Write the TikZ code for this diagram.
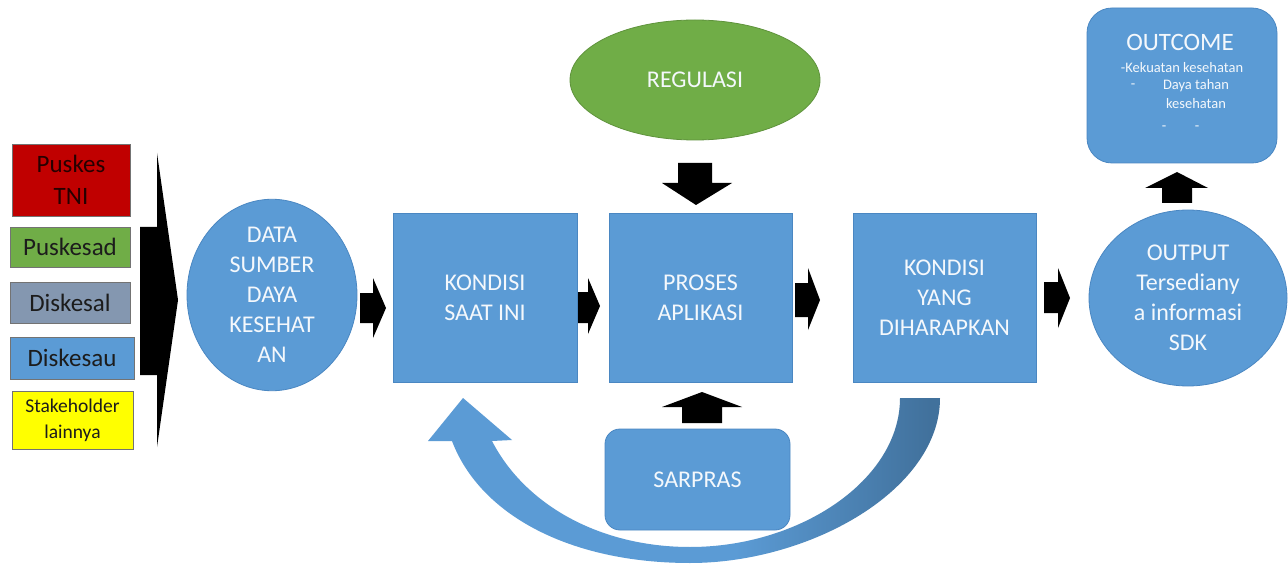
\documentclass[tikz,border=0pt]{standalone}
\usepackage{fontspec}
\setmainfont{Carlito}
\usetikzlibrary{shapes.geometric}
\definecolor{cA}{HTML}{5B9BD5}
\definecolor{cD}{HTML}{41719C}
\definecolor{cEdge}{HTML}{4A87C2}
\definecolor{cG}{HTML}{70AD47}
\definecolor{cR}{HTML}{C00000}
\definecolor{cS}{HTML}{8497B0}
\definecolor{cY}{HTML}{FFFF00}
\definecolor{cTxt}{HTML}{1C1C1C}
\definecolor{cW}{HTML}{F4F8FC}
\pgfdeclarehorizontalshading{curvshade}{100bp}{color(0bp)=(cA); color(55bp)=(cA); color(74bp)=(cD); color(100bp)=(cD)}
\tikzset{
  srcbox/.style={rectangle, draw=black!55, line width=0.8pt, text=cTxt, align=center, inner sep=0pt, font=\fontsize{25}{32}\selectfont},
  bluebox/.style={rectangle, fill=cA, draw=cEdge, line width=0.8pt, text=cW, align=center, inner sep=0pt, font=\fontsize{24}{30}\selectfont},
  blueell/.style={ellipse, fill=cA, draw=cEdge, line width=0.8pt, text=cW, align=center, inner sep=0pt, font=\fontsize{24}{30}\selectfont},
  blockarrow/.style={fill=black, draw=none},
  wtext/.style={text=cW, align=center, inner sep=0pt}
}
\begin{document}
\begin{tikzpicture}[x=1pt,y=-1pt]
\useasboundingbox (0,0) rectangle (1288,564);
\fill[white] (0,0) rectangle (1288,564);

% source boxes
\node[srcbox, fill=cR, minimum width=118, minimum height=72, text=black!85!red] (tni) at (71,180) {Puskes\\TNI};
\node[srcbox, fill=cG, minimum width=120, minimum height=40] (ad) at (70,247) {Puskesad};
\node[srcbox, fill=cS, minimum width=120, minimum height=41] (al) at (70,302.5) {Diskesal};
\node[srcbox, fill=cA, minimum width=124, minimum height=42] (au) at (72,358) {Diskesau};
\node[srcbox, fill=cY, minimum width=121, minimum height=58, font=\fontsize{19.5}{26}\selectfont] (sh) at (72.5,420) {Stakeholder\\lainnya};

% big chevron
\fill[black] (140,227) -- (157,227) -- (157,153) -- (178,300) -- (157,447) -- (157,375) -- (140,375) -- cycle;

% main shapes
\node[blueell, minimum width=170, minimum height=160] (data) at (272,295) {DATA\\SUMBER\\DAYA\\KESEHAT\\AN};
\node[bluebox, minimum width=184, minimum height=169] (k1) at (485,297.5) {KONDISI\\SAAT INI};
\node[bluebox, minimum width=183, minimum height=169] (pa) at (700.5,297.5) {PROSES\\APLIKASI};
\node[bluebox, minimum width=183, minimum height=169] (k2) at (944.5,297.5) {KONDISI\\YANG\\DIHARAPKAN};
\node[blueell, fill=cG, draw=cG!85!black, minimum width=250, minimum height=120] (reg) at (695,80) {REGULASI};
\node[bluebox, rounded corners=15, minimum width=185, minimum height=101] (sar) at (697.5,479.5) {SARPRAS};
\node[blueell, minimum width=198, minimum height=176] (out) at (1188,298) {OUTPUT\\Tersediany\\a informasi\\SDK};
\node[bluebox, rounded corners=25, minimum width=190, minimum height=155] (oc) at (1182,85.5) {};
\node[wtext, font=\fontsize{25}{30}\selectfont] (octitle) at (1180,42) {OUTCOME};
\node[wtext, font=\fontsize{14.5}{18}\selectfont] (oc1) at (1182,68) {-Kekuatan kesehatan};
\node[wtext, font=\fontsize{14.5}{18}\selectfont] (oc2a) at (1133,86) {-};
\node[wtext, font=\fontsize{14.5}{18}\selectfont] (oc2) at (1196,86) {Daya tahan};
\node[wtext, font=\fontsize{14.5}{18}\selectfont] (oc3) at (1196,104) {kesehatan};
\node[wtext, font=\fontsize{14.5}{18}\selectfont] (oc4) at (1164,128) {-};
\node[wtext, font=\fontsize{14.5}{18}\selectfont] (oc5) at (1197,128) {-};

% small block arrows (right)
\fill[blockarrow] (360,293) -- (373,293) -- (373,278) -- (386,308) -- (373,338) -- (373,323) -- (360,323) -- cycle;
\fill[blockarrow] (578,292) -- (588,292) -- (588,278) -- (600,306) -- (588,334) -- (588,323) -- (578,323) -- cycle;
\fill[blockarrow] (795,283) -- (808,283) -- (808,268) -- (820,300) -- (808,330) -- (808,317) -- (795,317) -- cycle;
\fill[blockarrow] (1044,282) -- (1058,282) -- (1058,268) -- (1070,298) -- (1058,328) -- (1058,313) -- (1044,313) -- cycle;

% down arrow from REGULASI
\fill[blockarrow] (678,163) -- (712,163) -- (712,183) -- (732,183) -- (696,205) -- (662,183) -- (678,183) -- cycle;
% up arrow from SARPRAS
\fill[blockarrow] (682,423) -- (722,423) -- (722,407) -- (742,407) -- (702,392) -- (662,407) -- (682,407) -- cycle;
% up arrow from OUTPUT
\fill[blockarrow] (1162,203) -- (1192,203) -- (1192,188) -- (1208,188) -- (1177,172) -- (1145,188) -- (1162,188) -- cycle;

% curved feedback arrow
\shade[shading=curvshade] (940,398)
  .. controls (940,490) and (810,563) .. (690,563)
  .. controls (570,563) and (480,515) .. (452,441)
  -- (428,441) -- (463,398) -- (512,440) -- (492,441)
  .. controls (525,505) and (600,547) .. (690,547)
  .. controls (800,547) and (900,480) .. (900,398) -- cycle;
\end{tikzpicture}
\end{document}
